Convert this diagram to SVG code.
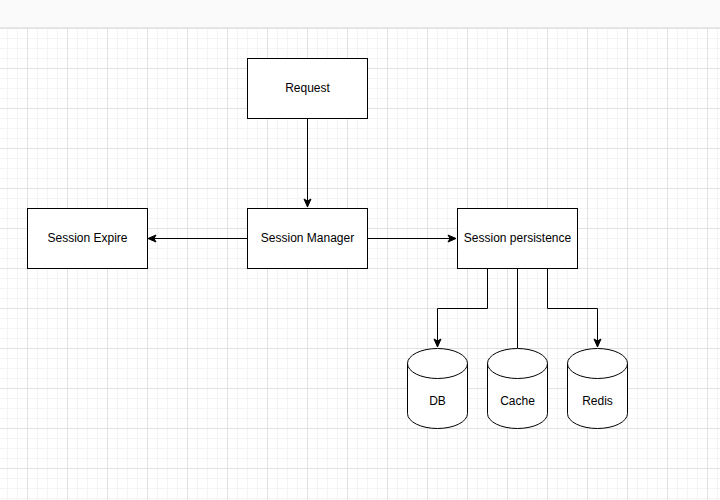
<svg xmlns="http://www.w3.org/2000/svg" width="720" height="500" viewBox="0 0 720 500">
<defs>
<pattern id="minor" x="27" y="28" width="10" height="10" patternUnits="userSpaceOnUse">
<path d="M0.5 0 V10 M0 0.5 H10" fill="none" stroke="#f4f4f4" stroke-width="1"/>
</pattern>
<pattern id="major" x="27" y="28" width="40" height="40" patternUnits="userSpaceOnUse">
<path d="M0.5 0 V40 M0 0.5 H40" fill="none" stroke="#e2e2e2" stroke-width="1"/>
</pattern>
<marker id="arr" markerWidth="10" markerHeight="10" refX="9" refY="5" orient="auto" markerUnits="userSpaceOnUse">
<path d="M1 1.5 L9 5 L1 8.5 L3 5 Z" fill="#000" stroke="#000" stroke-width="1"/>
</marker>
</defs>
<style>
.box{fill:#fff;stroke:#000;stroke-width:1}
.lbl{font-family:"Liberation Sans",Arial,sans-serif;font-size:12px;fill:#000;text-anchor:middle;dominant-baseline:central}
.edge{fill:none;stroke:#000;stroke-width:1}
</style>
<rect width="720" height="500" fill="#fff"/>
<rect y="28" width="720" height="472" fill="url(#minor)"/>
<rect y="28" width="720" height="472" fill="url(#major)"/>
<rect width="720" height="27" fill="#fafafa"/>
<line x1="0" y1="27.5" x2="720" y2="27.5" stroke="#e6e6e6"/>
<g id="connectors">
<path class="edge" d="M307.5 118 V207" marker-end="url(#arr)"/>
<path class="edge" d="M247 238.5 H148" marker-end="url(#arr)"/>
<path class="edge" d="M367 238.5 H456" marker-end="url(#arr)"/>
<path class="edge" d="M487.5 268 V308.5 H437.5 V347" marker-end="url(#arr)"/>
<path class="edge" d="M517.5 268 V348"/>
<path class="edge" d="M547.5 268 V308.5 H597.5 V347" marker-end="url(#arr)"/>
</g>
<g id="request">
<rect class="box" x="247.5" y="58.5" width="120" height="60"/>
<text class="lbl" x="307.5" y="87.5">Request</text>
</g>
<g id="session-expire">
<rect class="box" x="27.5" y="208.5" width="120" height="60"/>
<text class="lbl" x="87.5" y="237.5">Session Expire</text>
</g>
<g id="session-manager">
<rect class="box" x="247.5" y="208.5" width="120" height="60"/>
<text class="lbl" x="307.5" y="237.5">Session Manager</text>
</g>
<g id="session-persistence">
<rect class="box" x="457.5" y="208.5" width="120" height="60"/>
<text class="lbl" x="517.5" y="237.5">Session persistence</text>
</g>
<g id="db">
<path class="box" d="M407.5 363.5 A30 15 0 0 1 467.5 363.5 V413.5 A30 15 0 0 1 407.5 413.5 Z"/>
<path class="edge" d="M407.5 363.5 A30 15 0 0 0 467.5 363.5"/>
<text class="lbl" x="437.5" y="400.5">DB</text>
</g>
<g id="cache">
<path class="box" d="M487.5 363.5 A30 15 0 0 1 547.5 363.5 V413.5 A30 15 0 0 1 487.5 413.5 Z"/>
<path class="edge" d="M487.5 363.5 A30 15 0 0 0 547.5 363.5"/>
<text class="lbl" x="517.5" y="400.5">Cache</text>
</g>
<g id="redis">
<path class="box" d="M567.5 363.5 A30 15 0 0 1 627.5 363.5 V413.5 A30 15 0 0 1 567.5 413.5 Z"/>
<path class="edge" d="M567.5 363.5 A30 15 0 0 0 627.5 363.5"/>
<text class="lbl" x="597.5" y="400.5">Redis</text>
</g>
</svg>
